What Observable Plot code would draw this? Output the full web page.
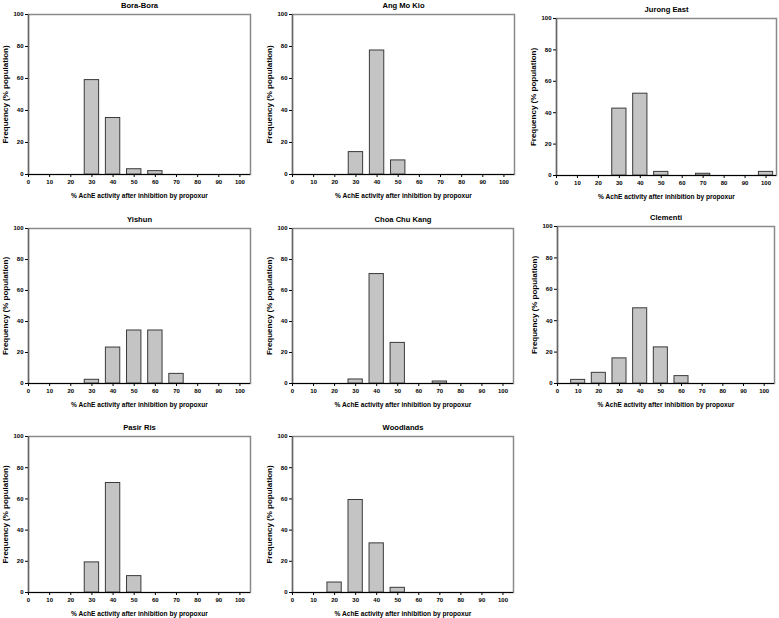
<!DOCTYPE html>
<html><head><meta charset="utf-8">
<script src="https://cdn.jsdelivr.net/npm/d3@7"></script>
<script src="https://cdn.jsdelivr.net/npm/@observablehq/plot@0.6"></script>
<style>
body{margin:0;background:#fff;}
#chart{position:relative;width:779px;height:618px;overflow:hidden;font-family:"Liberation Sans",Arial,sans-serif;}
.panel{position:absolute;}
</style></head><body><div id="chart"></div>
<script>
// ---- data ----
const sites = ["Bora-Bora","Ang Mo Kio","Jurong East","Yishun","Choa Chu Kang","Clementi","Pasir Ris","Woodlands"];
const activityBins = [0,10,20,30,40,50,60,70,80,90,100];
const boraBora    = [0,0,0,59,35.3,3.3,2.1,0,0,0,0];
const angMoKio    = [0,0,0,14,77.5,8.8,0,0,0,0,0];
const jurongEast  = [0,0,0,42.6,52.1,2.3,0,1.1,0,0,2.3];
const yishun      = [0,0,0,2.4,23.2,34.2,34.2,6.2,0,0,0];
const choaChuKang = [0,0,0,2.6,70.6,26.2,0,1.3,0,0,0];
const clementi    = [0,2.3,6.8,16,47.9,23,4.7,0,0,0,0];
const pasirRis    = [0,0,0,19.3,70.2,10.5,0,0,0,0,0];
const woodlands   = [0,0,6.4,59.3,31.5,3,0,0,0,0,0];
const seriesList = [boraBora, angMoKio, jurongEast, yishun, choaChuKang, clementi, pasirRis, woodlands];
const xTicks = [0,10,20,30,40,50,60,70,80,90,100];
const yTicks = [0,20,40,60,80,100];
const xLabel = "% AchE activity after inhibition by propoxur";
const yLabel = "Frequency (% population)";

// ---- layout (frame boxes in page pixels) ----
const frames = [
  {x:28,y:14,w:222,h:160},{x:292,y:14,w:222,h:160},{x:556,y:18,w:220,h:157},
  {x:28,y:228,w:222,h:155},{x:292,y:228,w:221,h:155},{x:557,y:226,w:217,h:157},
  {x:28,y:436,w:222,h:156},{x:292,y:436,w:221,h:156}
];
const ML = 30, MR = 3, MT = 14, MB = 30;
const font = '"Liberation Sans", Arial, sans-serif';
const chart = document.getElementById("chart");

sites.forEach((site, i) => {
  const f = frames[i];
  const data = activityBins.map((b, j) => ({bin: b, freq: seriesList[i][j]})).filter(d => d.freq > 0);
  const svg = Plot.plot({
    width: f.w + ML + MR, height: f.h + MT + MB,
    marginLeft: ML, marginRight: MR, marginTop: MT, marginBottom: MB,
    x: {domain: [0, 105]},
    y: {domain: [0, 100]},
    style: {fontFamily: font, fontSize: "6px", color: "#000", background: "transparent", overflow: "visible"},
    marks: [
      Plot.frame({stroke: "#8a8a8a", strokeWidth: 1.5}),
      Plot.rectY(data, {x1: d => d.bin - 3.4, x2: d => d.bin + 3.4, y: "freq", fill: "#c4c4c4", stroke: "#3a3a3a", strokeWidth: 1}),
      Plot.axisX({ticks: xTicks, tickSize: 3, tickPadding: 2, tickFormat: d => d, label: null, fontSize: 6, fontWeight: "bold"}),
      Plot.axisY({ticks: yTicks, tickSize: 3, tickPadding: 2, tickFormat: d => d, label: null, fontSize: 6, fontWeight: "bold"}),
      Plot.ruleY([0], {stroke: "#000", strokeWidth: 1.2}),
      Plot.ruleX([0], {stroke: "#666", strokeWidth: 1.4}),
      Plot.text([site], {frameAnchor: "top", dy: -9, lineAnchor: "middle", textAnchor: "middle", fontSize: 7.6, fontWeight: "bold", fill: "#000"}),
      Plot.text([xLabel], {frameAnchor: "bottom", dy: 21, lineAnchor: "middle", textAnchor: "middle", fontSize: 6.6, fontWeight: "bold", fill: "#000"}),
      Plot.text([yLabel], {frameAnchor: "left", dx: -23, rotate: -90, lineAnchor: "middle", textAnchor: "middle", fontSize: 8, fontWeight: "bold", fill: "#000"})
    ]
  });
  const div = document.createElement("div");
  div.className = "panel";
  div.style.left = (f.x - ML) + "px";
  div.style.top = (f.y - MT) + "px";
  div.appendChild(svg);
  chart.appendChild(div);
});
</script>
</body></html>
